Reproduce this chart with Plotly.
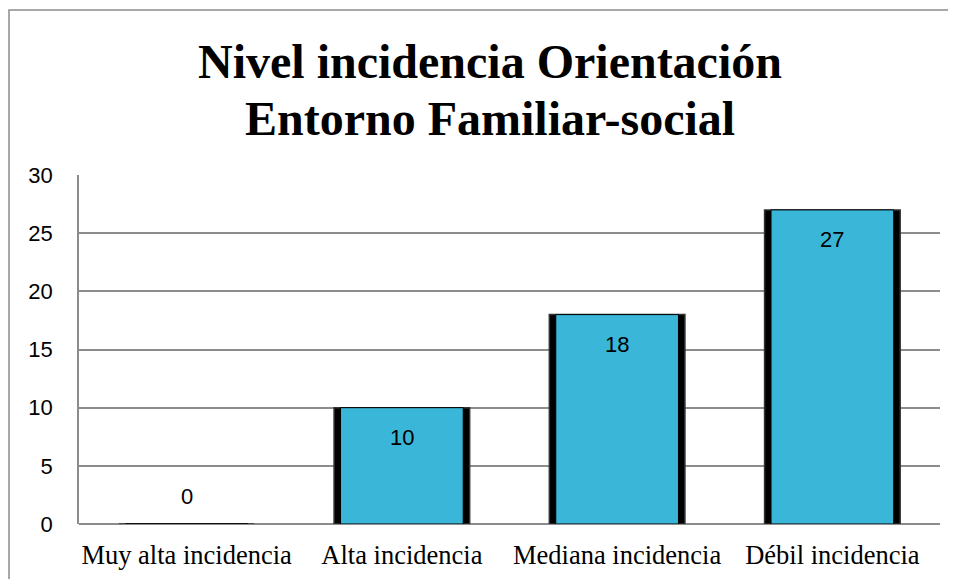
import plotly.graph_objects as go

categories = ["Muy alta incidencia", "Alta incidencia", "Mediana incidencia", "Débil incidencia"]
values = [0, 10, 18, 27]
y_ticks = [0, 5, 10, 15, 20, 25, 30]
title_lines = ["Nivel incidencia Orientación", "Entorno Familiar-social"]

fig = go.Figure()
# dark shadow bar behind
fig.add_trace(go.Bar(
    x=categories, y=values, width=0.63,
    marker=dict(color="#000000", line=dict(color="#333333", width=1.5)),
    hoverinfo="skip", showlegend=False,
))
# main cyan bar
fig.add_trace(go.Bar(
    x=categories, y=values, width=0.57,
    marker=dict(color="#3AB6D8", line=dict(color="#000000", width=1)),
    showlegend=False,
))

annotations = []
for c, v in zip(categories, values):
    annotations.append(dict(
        x=c, y=v, xref="x", yref="y", text=str(v), showarrow=False,
        yshift=(-30 if v > 0 else 28),
        font=dict(family="Liberation Sans, Arial", size=22, color="#000000"),
    ))
for line, ypos in zip(title_lines, [1.3238, 1.1633]):
    annotations.append(dict(
        x=0.477, y=ypos, xref="paper", yref="paper", text="<b>" + line + "</b>",
        showarrow=False, xanchor="center", yanchor="middle",
        font=dict(family="Liberation Serif, Times New Roman", size=48, color="#000000"),
    ))

fig.update_layout(
    width=956, height=579,
    margin=dict(l=71, r=24, t=167, b=63, autoexpand=False),
    paper_bgcolor="white", plot_bgcolor="white",
    barmode="overlay",
    annotations=annotations,
    shapes=[dict(type="rect", xref="paper", yref="paper",
                 x0=-0.0813, x1=1.2, y0=-0.5, y1=1.4728,
                 line=dict(color="#8c8c8c", width=1.5), layer="below")],
)
fig.update_xaxes(
    showgrid=False, showline=False, zeroline=False, automargin=False,
    tickfont=dict(family="Liberation Serif, Times New Roman", size=26.5, color="#000000"),
    ticks="", ticklabelstandoff=12,
)
fig.update_yaxes(
    range=[0, 30], tickvals=y_ticks, automargin=False,
    showgrid=True, gridcolor="#8c8c8c", gridwidth=1.5,
    showline=True, linecolor="#8c8c8c", linewidth=1.5,
    zeroline=True, zerolinecolor="#8c8c8c", zerolinewidth=1.5,
    tickfont=dict(family="Liberation Sans, Arial", size=22, color="#000000"),
    ticks="", ticklabelstandoff=20,
)
fig.write_html("out.html")
